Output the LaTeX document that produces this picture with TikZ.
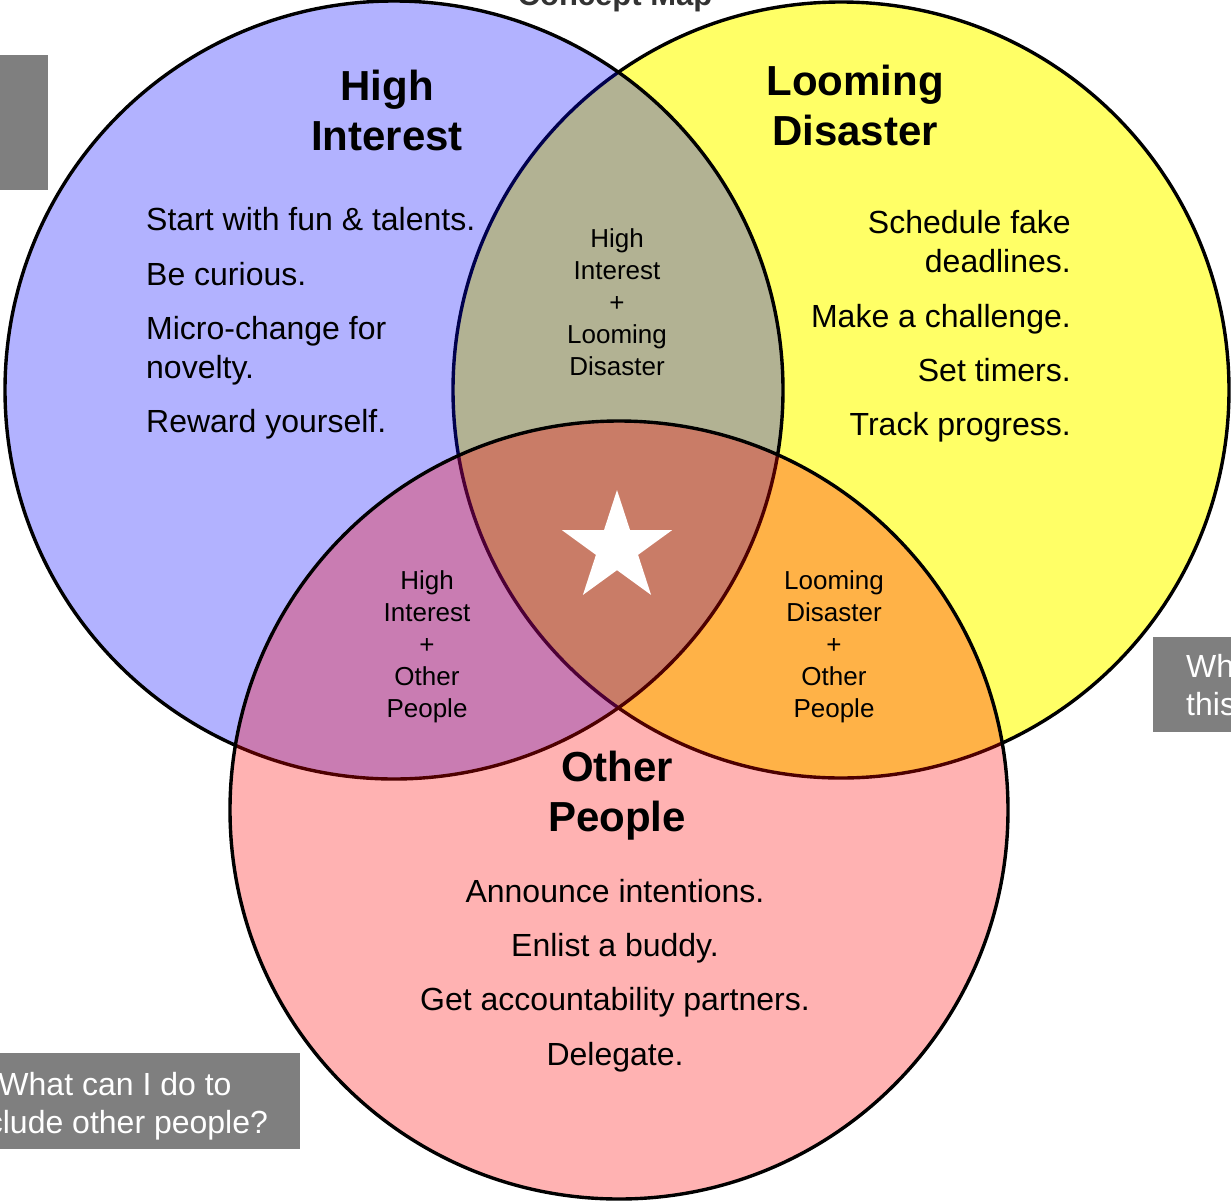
\documentclass[tikz,border=0pt]{standalone}
\usepackage{fontspec}
\setmainfont{Liberation Sans}
\usetikzlibrary{shapes.geometric}
\definecolor{ringyellow}{RGB}{255,255,0}
\definecolor{ringblue}{RGB}{0,0,255}
\definecolor{ringred}{RGB}{255,0,0}
\definecolor{notegray}{RGB}{127,127,127}
\definecolor{titlegray}{RGB}{51,51,51}
\begin{document}
\begin{tikzpicture}[x=1pt,y=-1pt,
  ring/.style={draw=black,line width=3.4pt},
  heading/.style={font=\fontsize{42}{50}\selectfont\bfseries,align=center,anchor=base,inner sep=0pt},
  bodytext/.style={font=\fontsize{32}{39}\selectfont,inner sep=0pt},
  overlaplabel/.style={font=\fontsize{26}{32}\selectfont,align=center,anchor=base,inner sep=0pt},
  notebox/.style={fill=notegray,draw=none},
  notetext/.style={font=\fontsize{32}{38}\selectfont,text=white,inner sep=0pt}]
\useasboundingbox (0,0) rectangle (1231,1200);
\clip (0,0) rectangle (1231,1200);

% page title
\node[font=\fontsize{31}{36}\selectfont\bfseries,text=titlegray,anchor=base,inner sep=0pt] (title) at (615,5) {Concept Map};

% grey note boxes (multi-line nodes: base is the last line)
\fill[notebox] (-10,55) rectangle (48,190);
\fill[notebox] (-80,1053) rectangle (300,1149);
\node[notetext,align=center,anchor=base] (noteleft) at (115,1133) {What can I do to\\include other people?};
\fill[notebox] (1153,637) rectangle (1240,732);
\node[notetext,align=left,anchor=base west] (noteright) at (1186,715) {Wh\\this};

% the three rings
\path[ring,fill=ringyellow,fill opacity=0.6] (841,390) circle[radius=388];
\path[ring,fill=ringblue,fill opacity=0.3] (394,390) circle[radius=389];
\path[ring,fill=ringred,fill opacity=0.3] (619,810) circle[radius=389];

% headings
\node[heading] (hi) at (387,150) {High\\Interest};
\node[heading] (ld) at (855,145) {Looming\\Disaster};
\node[heading] (op) at (617,831) {Other\\People};

% High Interest ideas
\node[bodytext,anchor=base west] (hi1) at (146,230) {Start with fun \& talents.};
\node[bodytext,anchor=base west] (hi2) at (146,285) {Be curious.};
\node[bodytext,anchor=base west,align=left] (hi3) at (146,378) {Micro-change for\\novelty.};
\node[bodytext,anchor=base west] (hi4) at (146,432) {Reward yourself.};

% Looming Disaster ideas
\node[bodytext,anchor=base east,align=right] (ld1) at (1071,272) {Schedule fake\\deadlines.};
\node[bodytext,anchor=base east] (ld2) at (1071,327) {Make a challenge.};
\node[bodytext,anchor=base east] (ld3) at (1071,381) {Set timers.};
\node[bodytext,anchor=base east] (ld4) at (1071,435) {Track progress.};

% Other People ideas
\node[bodytext,anchor=base] (op1) at (615,902) {Announce intentions.};
\node[bodytext,anchor=base] (op2) at (615,956) {Enlist a buddy.};
\node[bodytext,anchor=base] (op3) at (615,1010) {Get accountability partners.};
\node[bodytext,anchor=base] (op4) at (615,1065) {Delegate.};

% overlap labels
\node[overlaplabel] (hild) at (617,375) {High\\Interest\\+\\Looming\\Disaster};
\node[overlaplabel] (hiop) at (427,717) {High\\Interest\\+\\Other\\People};
\node[overlaplabel] (ldop) at (834,717) {Looming\\Disaster\\+\\Other\\People};

% centre star
\node[star,star points=5,star point ratio=2.618,minimum size=116pt,inner sep=0pt,fill=white,draw=none] (centre) at (617,548) {};
\end{tikzpicture}
\end{document}
